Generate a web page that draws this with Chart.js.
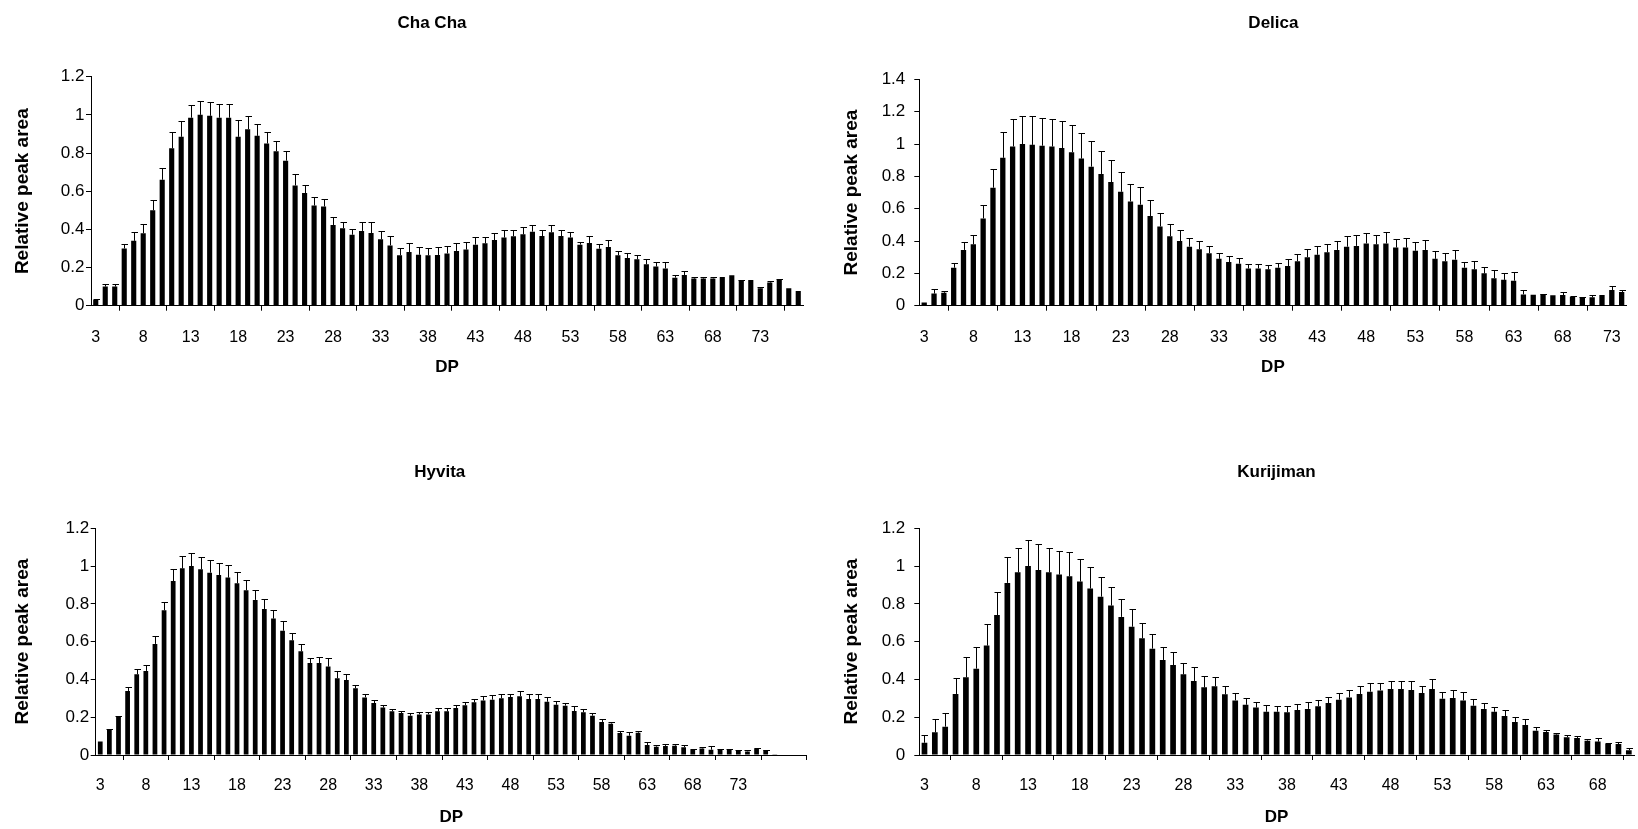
<!DOCTYPE html>
<html>
<head>
<meta charset="utf-8">
<script src="https://cdn.jsdelivr.net/npm/chart.js@4.4.1/dist/chart.umd.min.js"></script>
<style>
  html, body { margin: 0; padding: 0; background: #fff; }
  body { width: 1638px; height: 829px; position: relative; overflow: hidden; }
  .panel { position: absolute; }
</style>
</head>
<body>
<div class="panel" style="left:0px;top:0px;width:819px;height:414px;"><canvas id="c1" width="819" height="414"></canvas></div>
<div class="panel" style="left:819px;top:0px;width:819px;height:414px;"><canvas id="c2" width="819" height="414"></canvas></div>
<div class="panel" style="left:0px;top:414px;width:819px;height:415px;"><canvas id="c3" width="819" height="415"></canvas></div>
<div class="panel" style="left:819px;top:414px;width:819px;height:415px;"><canvas id="c4" width="819" height="415"></canvas></div>
<script>
// ---------- DATA ----------
const titles = ['Cha Cha', 'Delica', 'Hyvita', 'Kurijiman'];

// DP category ranges (first and last degree of polymerisation on each axis)
const dpRangeChaCha = [3, 77];
const dpRangeDelica = [3, 74];
const dpRangeHyvita = [3, 80];
const dpRangeKurijiman = [3, 71];

// tick labels shown on the category axes
const xTickLabelsChaCha = ['3','8','13','18','23','28','33','38','43','48','53','58','63','68','73'];
const xTickLabelsDelica = ['3','8','13','18','23','28','33','38','43','48','53','58','63','68','73'];
const xTickLabelsHyvita = ['3','8','13','18','23','28','33','38','43','48','53','58','63','68','73'];
const xTickLabelsKurijiman = ['3','8','13','18','23','28','33','38','43','48','53','58','63','68'];

// relative peak area (mean) per DP
const valuesChaCha = [
  0.03, 0.10, 0.10, 0.30, 0.34, 0.38, 0.50, 0.66, 0.825, 0.885,
  0.985, 1.00, 0.995, 0.985, 0.985, 0.885, 0.925, 0.89, 0.85, 0.81,
  0.76, 0.63, 0.59, 0.525, 0.52, 0.423, 0.406, 0.372, 0.392, 0.381,
  0.348, 0.316, 0.264, 0.281, 0.267, 0.264, 0.266, 0.274, 0.287, 0.294,
  0.320, 0.327, 0.344, 0.357, 0.364, 0.374, 0.388, 0.365, 0.385, 0.365,
  0.357, 0.320, 0.328, 0.299, 0.308, 0.264, 0.250, 0.243, 0.217, 0.205,
  0.195, 0.147, 0.161, 0.142, 0.142, 0.143, 0.150, 0.159, 0.133, 0.135,
  0.091, 0.121, 0.136, 0.091, 0.077
];
const errorsChaCha = [
  0.004, 0.015, 0.012, 0.025, 0.045, 0.048, 0.056, 0.064, 0.084, 0.085,
  0.065, 0.075, 0.072, 0.070, 0.071, 0.087, 0.068, 0.061, 0.059, 0.055,
  0.051, 0.060, 0.043, 0.047, 0.039, 0.044, 0.031, 0.032, 0.045, 0.056,
  0.044, 0.049, 0.037, 0.049, 0.039, 0.040, 0.040, 0.041, 0.043, 0.038,
  0.042, 0.035, 0.037, 0.038, 0.033, 0.040, 0.037, 0.030, 0.040, 0.030,
  0.029, 0.016, 0.035, 0.026, 0.036, 0.024, 0.028, 0.024, 0.026, 0.022,
  0.032, 0.012, 0.019, 0.010, 0.010, 0.007, 0.000, 0.000, 0.002, 0.000,
  0.009, 0.010, 0.004, 0.000, 0.000
];

const valuesDelica = [
  0.02, 0.075, 0.08, 0.235, 0.345, 0.38, 0.54, 0.73, 0.915, 0.985,
  1.00, 0.995, 0.99, 0.985, 0.975, 0.95, 0.91, 0.86, 0.815, 0.765,
  0.705, 0.645, 0.625, 0.555, 0.49, 0.43, 0.40, 0.365, 0.35, 0.325,
  0.29, 0.27, 0.26, 0.23, 0.23, 0.225, 0.235, 0.245, 0.275, 0.30,
  0.315, 0.33, 0.345, 0.365, 0.37, 0.385, 0.38, 0.385, 0.36, 0.36,
  0.34, 0.345, 0.29, 0.275, 0.285, 0.235, 0.225, 0.20, 0.17, 0.16,
  0.155, 0.07, 0.068, 0.072, 0.064, 0.066, 0.056, 0.052, 0.052, 0.066,
  0.097, 0.085
];
const errorsDelica = [
  0.000, 0.027, 0.011, 0.029, 0.047, 0.056, 0.081, 0.117, 0.158, 0.173,
  0.176, 0.180, 0.171, 0.173, 0.167, 0.170, 0.157, 0.156, 0.139, 0.134,
  0.122, 0.106, 0.111, 0.101, 0.082, 0.074, 0.068, 0.052, 0.049, 0.043,
  0.039, 0.039, 0.035, 0.029, 0.031, 0.027, 0.027, 0.044, 0.046, 0.050,
  0.053, 0.054, 0.058, 0.064, 0.066, 0.063, 0.060, 0.068, 0.055, 0.057,
  0.056, 0.064, 0.049, 0.048, 0.059, 0.037, 0.051, 0.042, 0.048, 0.043,
  0.055, 0.025, 0.000, 0.002, 0.000, 0.016, 0.004, 0.002, 0.014, 0.000,
  0.027, 0.012
];

const valuesHyvita = [
  0.071, 0.136, 0.203, 0.339, 0.427, 0.445, 0.588, 0.766, 0.921, 0.988,
  1.00, 0.983, 0.965, 0.953, 0.939, 0.909, 0.872, 0.821, 0.773, 0.722,
  0.658, 0.607, 0.549, 0.487, 0.487, 0.468, 0.406, 0.397, 0.353, 0.305,
  0.275, 0.251, 0.231, 0.222, 0.208, 0.215, 0.215, 0.231, 0.231, 0.249,
  0.263, 0.279, 0.289, 0.293, 0.300, 0.307, 0.311, 0.296, 0.296, 0.282,
  0.266, 0.261, 0.233, 0.226, 0.208, 0.175, 0.166, 0.116, 0.102, 0.118,
  0.053, 0.044, 0.048, 0.049, 0.041, 0.028, 0.035, 0.028, 0.030, 0.026,
  0.023, 0.019, 0.034, 0.026, 0.004, 0.003, 0.003, 0.003
];
const errorsHyvita = [
  0.000, 0.002, 0.004, 0.021, 0.026, 0.033, 0.040, 0.044, 0.062, 0.067,
  0.069, 0.067, 0.067, 0.065, 0.067, 0.062, 0.054, 0.054, 0.053, 0.047,
  0.051, 0.039, 0.039, 0.028, 0.032, 0.046, 0.037, 0.030, 0.018, 0.018,
  0.014, 0.015, 0.014, 0.011, 0.013, 0.013, 0.013, 0.016, 0.016, 0.014,
  0.016, 0.019, 0.022, 0.025, 0.025, 0.018, 0.026, 0.025, 0.025, 0.027,
  0.022, 0.016, 0.026, 0.016, 0.014, 0.016, 0.010, 0.011, 0.018, 0.009,
  0.014, 0.009, 0.008, 0.007, 0.012, 0.002, 0.007, 0.018, 0.004, 0.004,
  0.002, 0.006, 0.005, 0.002, 0.000, 0.000, 0.000, 0.000
];

const valuesKurijiman = [
  0.065, 0.12, 0.15, 0.323, 0.411, 0.457, 0.579, 0.741, 0.911, 0.967,
  1.00, 0.979, 0.967, 0.955, 0.946, 0.918, 0.881, 0.838, 0.791, 0.731,
  0.679, 0.618, 0.563, 0.503, 0.476, 0.427, 0.392, 0.358, 0.364, 0.321,
  0.289, 0.266, 0.251, 0.229, 0.229, 0.226, 0.238, 0.244, 0.258, 0.275,
  0.293, 0.305, 0.323, 0.335, 0.342, 0.349, 0.349, 0.344, 0.328, 0.349,
  0.298, 0.302, 0.289, 0.261, 0.244, 0.229, 0.206, 0.175, 0.159, 0.129,
  0.122, 0.108, 0.094, 0.090, 0.076, 0.071, 0.058, 0.058, 0.025
];
const errorsKurijiman = [
  0.040, 0.070, 0.070, 0.085, 0.106, 0.117, 0.114, 0.120, 0.135, 0.131,
  0.136, 0.138, 0.129, 0.127, 0.129, 0.120, 0.116, 0.104, 0.100, 0.093,
  0.094, 0.079, 0.076, 0.069, 0.069, 0.062, 0.076, 0.060, 0.047, 0.043,
  0.037, 0.038, 0.031, 0.037, 0.030, 0.032, 0.032, 0.035, 0.031, 0.034,
  0.037, 0.041, 0.041, 0.046, 0.039, 0.044, 0.044, 0.048, 0.037, 0.055,
  0.034, 0.042, 0.045, 0.037, 0.033, 0.027, 0.032, 0.024, 0.033, 0.017,
  0.010, 0.007, 0.010, 0.009, 0.010, 0.017, 0.007, 0.013, 0.010
];

const yMaxValues = [1.2, 1.4, 1.2, 1.2];

// ---------- RENDERING ----------
const FONT = '"Liberation Sans", Arial, Helvetica, sans-serif';

function dpCategories(range) {
  const out = [];
  for (let d = range[0]; d <= range[1]; d++) out.push(String(d));
  return out;
}

const errorBarPlugin = {
  id: 'errorBars',
  afterDatasetsDraw(chart) {
    const ctx = chart.ctx;
    const yScale = chart.scales.y;
    chart.data.datasets.forEach((ds, di) => {
      const meta = chart.getDatasetMeta(di);
      if (!ds.errors) return;
      ctx.save();
      ctx.strokeStyle = '#000';
      ctx.lineWidth = 1;
      meta.data.forEach((bar, i) => {
        const e = ds.errors[i];
        const v = ds.data[i];
        if (!e || e <= 0) return;
        const x = Math.round(bar.x) + 0.5;
        const y0 = yScale.getPixelForValue(v);
        const y1 = Math.round(yScale.getPixelForValue(v + e)) + 0.5;
        ctx.beginPath();
        ctx.moveTo(x, y0);
        ctx.lineTo(x, y1);
        ctx.moveTo(x - 3, y1);
        ctx.lineTo(x + 3.5, y1);
        ctx.stroke();
      });
      ctx.restore();
    });
  }
};

const panelTitlePlugin = {
  id: 'panelTitle',
  afterDraw(chart, args, opts) {
    if (!opts || !opts.text) return;
    const ctx = chart.ctx;
    ctx.save();
    ctx.font = 'bold 17px ' + FONT;
    ctx.fillStyle = '#000';
    ctx.textAlign = 'center';
    ctx.textBaseline = 'middle';
    ctx.fillText(opts.text, opts.x, opts.y);
    ctx.restore();
  }
};

function makeChart(id, title, cats, vals, errs, tickLabels, yMax, g) {
  return new Chart(document.getElementById(id), {
    type: 'bar',
    data: {
      labels: cats,
      datasets: [{
        data: vals,
        errors: errs,
        backgroundColor: '#000',
        borderWidth: 0,
        barPercentage: g.barPct,
        categoryPercentage: 1.0
      }]
    },
    plugins: [errorBarPlugin, panelTitlePlugin],
    options: {
      responsive: false,
      animation: false,
      devicePixelRatio: 1,
      layout: { padding: { top: g.padTop, right: g.padRight, left: 0, bottom: 0 } },
      plugins: {
        legend: { display: false },
        tooltip: { enabled: false },
        panelTitle: { text: title, x: g.titleX, y: g.titleY }
      },
      scales: {
        x: {
          type: 'category',
          offset: true,
          grid: { offset: true, drawOnChartArea: false, drawTicks: true, tickLength: 5, color: '#000', lineWidth: 1 },
          border: { display: true, color: '#000', width: 1 },
          ticks: {
            autoSkip: false, maxRotation: 0, minRotation: 0,
            padding: g.xTickPad, color: '#000',
            font: { family: FONT, size: 16 },
            callback: function (val, idx) {
              const lab = this.getLabelForValue(val);
              if (tickLabels.includes(lab)) return lab;
              return (idx % 5 === 0) ? '' : null;
            }
          },
          title: {
            display: true, text: 'DP', color: '#000',
            font: { family: FONT, size: 17, weight: 'bold' },
            padding: { top: 0, bottom: g.xTitlePadBottom }
          },
          afterFit(scale) { scale.height = g.xHeight; }
        },
        y: {
          min: 0, max: yMax,
          ticks: {
            stepSize: 0.2, color: '#000', padding: g.yTickPad,
            font: { family: FONT, size: 17 },
            callback: (v) => String(Math.round(v * 10) / 10)
          },
          grid: { display: true, drawOnChartArea: false, drawTicks: true, tickLength: 5, color: '#000' },
          border: { display: true, color: '#000', width: 1 },
          title: {
            display: true, text: 'Relative peak area', color: '#000',
            font: { family: FONT, size: 19, weight: 'bold' },
            padding: { top: g.yTitlePadTop, bottom: 0 }
          },
          afterFit(scale) { scale.width = g.yWidth; }
        }
      }
    }
  });
}

makeChart('c1', titles[0], dpCategories(dpRangeChaCha), valuesChaCha, errorsChaCha, xTickLabelsChaCha, yMaxValues[0],
  { padTop: 76.7, padRight: 16, yWidth: 91, xHeight: 108.3, xTickPad: 17.2, xTitlePadBottom: 36.1, yTitlePadTop: 11.6, yTickPad: 1.5, titleX: 432, titleY: 23, barPct: 0.54 });
makeChart('c2', titles[1], dpCategories(dpRangeDelica), valuesDelica, errorsDelica, xTickLabelsDelica, yMaxValues[1],
  { padTop: 79.4, padRight: 4, yWidth: 100.3, xHeight: 108.3, xTickPad: 17.2, xTitlePadBottom: 36.1, yTitlePadTop: 21, yTickPad: 9, titleX: 454.4, titleY: 23, barPct: 0.54 });
makeChart('c3', titles[2], dpCategories(dpRangeHyvita), valuesHyvita, errorsHyvita, xTickLabelsHyvita, yMaxValues[2],
  { padTop: 114.3, padRight: 12.3, yWidth: 95.7, xHeight: 74, xTickPad: 15.9, xTitlePadBottom: 1.8, yTitlePadTop: 11.6, yTickPad: 1.5, titleX: 439.8, titleY: 58.2, barPct: 0.52 });
makeChart('c4', titles[3], dpCategories(dpRangeKurijiman), valuesKurijiman, errorsKurijiman, xTickLabelsKurijiman, yMaxValues[3],
  { padTop: 114.3, padRight: 4, yWidth: 100.3, xHeight: 74, xTickPad: 15.9, xTitlePadBottom: 1.8, yTitlePadTop: 21, yTickPad: 9, titleX: 457.5, titleY: 58.2, barPct: 0.55 });
</script>
</body>
</html>
